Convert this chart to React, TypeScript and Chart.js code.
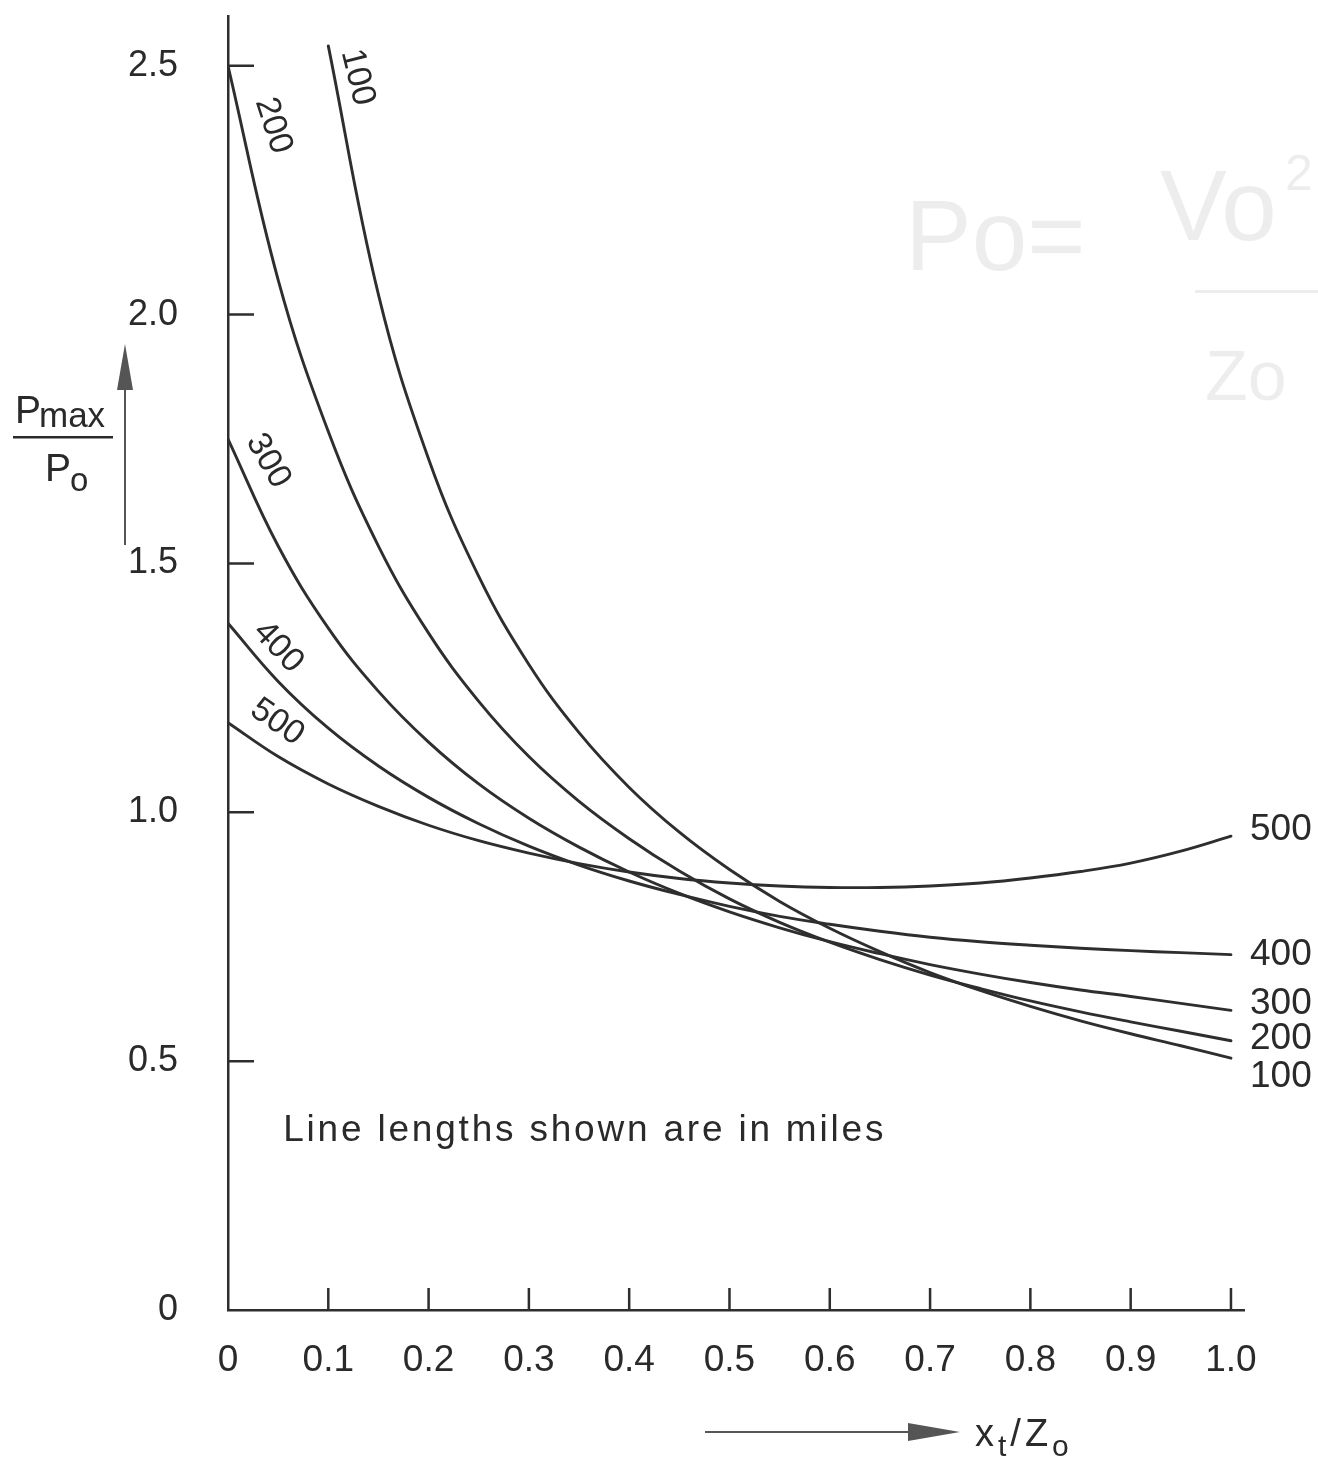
import React, { useEffect, useRef } from "react";
import { Chart, registerables } from "chart.js";

Chart.register(...registerables);

// x_t / Z_o sample positions
const xValues = [0, 0.05, 0.1, 0.15, 0.2, 0.25, 0.3, 0.35, 0.4, 0.45, 0.5, 0.55, 0.6, 0.65, 0.7, 0.75, 0.8, 0.85, 0.9, 0.95, 1.0];

// Pmax / Po for each line length (miles)
const line100 = [null, null, 2.54, 2.04, 1.71, 1.474, 1.297, 1.16, 1.05, 0.96, 0.885, 0.821, 0.767, 0.72, 0.678, 0.642, 0.61, 0.581, 0.555, 0.531, 0.506];
const line200 = [2.5, 2.07, 1.765, 1.535, 1.36, 1.223, 1.112, 1.022, 0.947, 0.882, 0.826, 0.779, 0.739, 0.704, 0.673, 0.646, 0.621, 0.599, 0.579, 0.56, 0.541];
const line300 = [1.75, 1.535, 1.37, 1.243, 1.141, 1.057, 0.988, 0.93, 0.88, 0.837, 0.8, 0.768, 0.74, 0.716, 0.694, 0.675, 0.658, 0.643, 0.63, 0.616, 0.602];
const line400 = [1.38, 1.263, 1.169, 1.093, 1.03, 0.977, 0.932, 0.894, 0.862, 0.835, 0.811, 0.791, 0.775, 0.761, 0.749, 0.74, 0.733, 0.727, 0.722, 0.718, 0.714];
const line500 = [1.18, 1.112, 1.057, 1.012, 0.974, 0.943, 0.918, 0.897, 0.88, 0.867, 0.858, 0.852, 0.849, 0.849, 0.852, 0.858, 0.868, 0.881, 0.898, 0.922, 0.952];

const seriesNames = ["100", "200", "300", "400", "500"];
const seriesValues = [line100, line200, line300, line400, line500];

const xTickValues = [0, 0.1, 0.2, 0.3, 0.4, 0.5, 0.6, 0.7, 0.8, 0.9, 1.0];
const xTickLabels = ["0", "0.1", "0.2", "0.3", "0.4", "0.5", "0.6", "0.7", "0.8", "0.9", "1.0"];
const yTickValues = [0, 0.5, 1.0, 1.5, 2.0, 2.5];
const yTickLabels = ["0", "0.5", "1.0", "1.5", "2.0", "2.5"];

// label anchors in data coordinates: [x, y, rotation deg]
const startLabelPos = [
  [0.129, 2.477, 76],
  [0.045, 2.38, 72],
  [0.04, 1.706, 60],
  [0.05, 1.332, 47],
  [0.049, 1.181, 35],
];
const endLabelY = [0.468, 0.545, 0.615, 0.713, 0.964];
const endLabelX = 1.019;
const noteText = "Line lengths shown are in miles";
const notePos = [0.055, 0.36];

const FONT = "'Liberation Sans', Arial, Helvetica, sans-serif";
const INK = "#2e2e2e";
const TEXT = "#2a2a2a";

const decorPlugin = {
  id: "decor",
  afterDraw(chart: any) {
    const ctx = chart.ctx as CanvasRenderingContext2D;
    const xs = chart.scales.x;
    const ys = chart.scales.y;
    const area = chart.chartArea;
    ctx.save();

    // inward tick marks
    ctx.strokeStyle = INK;
    ctx.lineWidth = 2.5;
    ctx.beginPath();
    yTickValues.forEach((v) => {
      if (v === 0) return;
      const py = ys.getPixelForValue(v);
      ctx.moveTo(area.left, py);
      ctx.lineTo(area.left + 26, py);
    });
    xTickValues.forEach((v) => {
      if (v === 0) return;
      const px = xs.getPixelForValue(v);
      ctx.moveTo(px, area.bottom);
      ctx.lineTo(px, area.bottom - 22);
    });
    ctx.stroke();

    // curve labels near the start
    ctx.fillStyle = TEXT;
    ctx.font = `34px ${FONT}`;
    ctx.textAlign = "center";
    ctx.textBaseline = "middle";
    startLabelPos.forEach((p, i) => {
      ctx.save();
      ctx.translate(xs.getPixelForValue(p[0]), ys.getPixelForValue(p[1]));
      ctx.rotate((p[2] * Math.PI) / 180);
      ctx.fillText(seriesNames[i], 0, 0);
      ctx.restore();
    });

    // curve labels at right end
    ctx.font = `37px ${FONT}`;
    ctx.textAlign = "left";
    endLabelY.forEach((v, i) => {
      ctx.fillText(seriesNames[i], xs.getPixelForValue(endLabelX), ys.getPixelForValue(v));
    });

    // note
    ctx.font = `37px ${FONT}`;
    (ctx as any).letterSpacing = "2.8px";
    ctx.fillText(noteText, xs.getPixelForValue(notePos[0]), ys.getPixelForValue(notePos[1]));
    (ctx as any).letterSpacing = "0px";

    // y-axis title: Pmax / Po
    const L = area.left;
    ctx.textBaseline = "alphabetic";
    ctx.font = `39px ${FONT}`;
    ctx.fillText("P", L - 213, 423);
    ctx.font = `35px ${FONT}`;
    ctx.fillText("max", L - 189, 427);
    ctx.fillRect(L - 215, 436, 100, 2.5);
    ctx.font = `39px ${FONT}`;
    ctx.fillText("P", L - 183, 481);
    ctx.font = `33px ${FONT}`;
    ctx.fillText("o", L - 158, 491);

    // y arrow
    ctx.strokeStyle = "#555";
    ctx.lineWidth = 2;
    ctx.beginPath();
    ctx.moveTo(L - 103, 545);
    ctx.lineTo(L - 103, 385);
    ctx.stroke();
    ctx.fillStyle = "#555";
    ctx.beginPath();
    ctx.moveTo(L - 103, 344);
    ctx.lineTo(L - 111, 390);
    ctx.lineTo(L - 95, 390);
    ctx.closePath();
    ctx.fill();

    // x arrow + title
    const B = area.bottom;
    ctx.beginPath();
    ctx.moveTo(705, B + 122);
    ctx.lineTo(915, B + 122);
    ctx.stroke();
    ctx.beginPath();
    ctx.moveTo(908, B + 113);
    ctx.lineTo(960, B + 122);
    ctx.lineTo(908, B + 131);
    ctx.closePath();
    ctx.fill();
    ctx.fillStyle = TEXT;
    let cx = 975;
    const parts: [string, number, number][] = [
      ["x", 38, 0],
      ["t", 30, 10],
      ["/", 38, 0],
      ["Z", 38, 0],
      ["o", 30, 10],
    ];
    parts.forEach(([t, s, dy]) => {
      ctx.font = `${s}px ${FONT}`;
      ctx.fillText(t, cx, B + 136 + dy);
      cx += ctx.measureText(t).width + 4;
    });

    // faint pencil annotation
    ctx.fillStyle = "rgba(0,0,0,0.07)";
    ctx.font = `100px ${FONT}`;
    ctx.fillText("Po=", 905, 270);
    ctx.fillText("Vo", 1160, 240);
    ctx.font = `50px ${FONT}`;
    ctx.fillText("2", 1285, 190);
    ctx.fillRect(1195, 290, 123, 3);
    ctx.font = `70px ${FONT}`;
    ctx.fillText("Zo", 1205, 400);

    ctx.restore();
  },
};

export default function App() {
  const ref = useRef<HTMLCanvasElement | null>(null);
  useEffect(() => {
    if (!ref.current) return;
    const datasets = seriesValues.map((vals, i) => ({
      label: seriesNames[i],
      data: xValues
        .map((x, j) => ({ x, y: vals[j] }))
        .filter((p) => p.y !== null) as { x: number; y: number }[],
      borderColor: INK,
      borderWidth: 2.9,
      borderCapStyle: "round" as const,
      borderJoinStyle: "round" as const,
      pointRadius: 0,
      fill: false,
      tension: 0.4,
    }));
    const chart = new Chart(ref.current, {
      type: "line",
      data: { datasets },
      options: {
        animation: false,
        responsive: false,
        maintainAspectRatio: false,
        layout: { padding: { top: 16, right: 74, left: 0, bottom: 0 } },
        plugins: {
          legend: { display: false },
          tooltip: { enabled: false },
          title: { display: false },
        },
        scales: {
          x: {
            type: "linear",
            min: 0,
            max: 1.013,
            grid: { display: false, drawTicks: false },
            border: { display: true, color: INK, width: 2.5 },
            afterBuildTicks: (s: any) => {
              s.ticks = xTickValues.map((v) => ({ value: v }));
            },
            afterFit: (s: any) => {
              s.height = 148;
              s.paddingLeft = 0;
              s.paddingRight = 0;
            },
            ticks: {
              autoSkip: false,
              maxRotation: 0,
              padding: 29,
              color: TEXT,
              font: { family: FONT, size: 37 },
              callback: (_v: any, i: number) => xTickLabels[i],
            },
          },
          y: {
            type: "linear",
            min: 0,
            max: 2.6,
            grid: { display: false, drawTicks: false },
            border: { display: true, color: INK, width: 2.5 },
            afterBuildTicks: (s: any) => {
              s.ticks = yTickValues.map((v) => ({ value: v }));
            },
            afterFit: (s: any) => {
              s.width = 228;
              s.paddingTop = 0;
              s.paddingBottom = 0;
            },
            ticks: {
              autoSkip: false,
              padding: 50,
              color: TEXT,
              font: { family: FONT, size: 36 },
              callback: (_v: any, i: number) => yTickLabels[i],
            },
          },
        },
      },
      plugins: [decorPlugin],
    });
    return () => chart.destroy();
  }, []);
  return (
    <div style={{ position: "absolute", left: 0, top: 0, width: 1318, height: 1458, background: "#fff" }}>
      <canvas ref={ref} width={1318} height={1458} style={{ display: "block", width: 1318, height: 1458 }} />
    </div>
  );
}
